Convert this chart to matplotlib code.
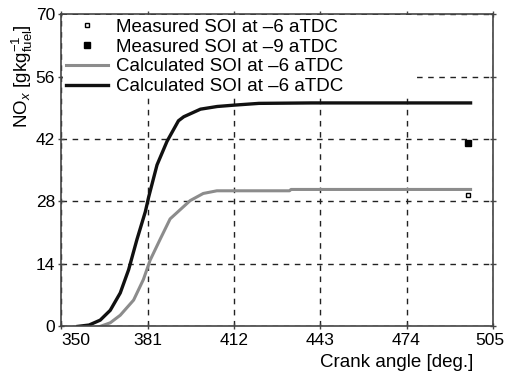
import matplotlib.pyplot as plt
from matplotlib.patches import Rectangle
from matplotlib.transforms import ScaledTranslation

plt.rcParams['font.family'] = ['Liberation Sans', 'DejaVu Sans']
plt.rcParams['mathtext.fontset'] = 'custom'
plt.rcParams['mathtext.rm'] = 'Liberation Sans'
plt.rcParams['mathtext.it'] = 'Liberation Sans:italic'

# Calculated SOI curves
crank_black = [356, 360, 364, 367.6, 371.2, 374.2, 377.2, 380.2, 381.4, 384.4, 388,
               392.1, 394, 400, 406, 412, 421, 440, 470, 497]
nox_black = [0, 0.3, 1.4, 3.6, 7.5, 12.7, 19.5, 25.7, 29.0, 36.2, 41.5,
             46.1, 47.0, 48.7, 49.3, 49.6, 50.0, 50.1, 50.1, 50.1]

crank_gray = [364, 367.6, 371.2, 376, 379.5, 381.9, 385.5, 389.1, 396.3, 401,
              405.9, 410, 432, 432.5, 497]
nox_gray = [0, 0.8, 2.5, 5.9, 10.5, 14.8, 19.5, 24.1, 28.2, 29.8,
            30.4, 30.4, 30.4, 30.7, 30.7]

# Measured points
meas_x = [496]
meas_open = [29.5]
meas_fill = [41.2]

xticks = [350, 381, 412, 443, 474, 505]
yticks = [0, 14, 28, 42, 56, 70]

fig = plt.figure(figsize=(5.06, 3.73), dpi=100)
ax = fig.add_axes([0.121, 0.125, 0.853, 0.837])

ax.plot(meas_x, meas_open, 's', ms=3.5, mfc='white', mec='black', mew=1,
        label='Measured SOI at \u20136 aTDC', zorder=4)
ax.plot(meas_x, meas_fill, 's', ms=4, color='black',
        label='Measured SOI at \u20139 aTDC', zorder=4)
ax.plot(crank_gray, nox_gray, color='#8c8c8c', lw=2.2,
        label='Calculated SOI at \u20136 aTDC', zorder=3)
ax.plot(crank_black, nox_black, color='#111111', lw=2.4,
        label='Calculated SOI at \u20136 aTDC', zorder=3)

ax.set_xlim(350, 505)
ax.set_ylim(0, 70)
ax.set_xticks(xticks)
ax.set_yticks(yticks)
ax.set_axisbelow(True)
ax.grid(True, color='#222222', ls=(0, (4, 4)), lw=1)
ax.tick_params(direction='inout', length=5, width=1, color='#444444',
               labelsize=12.5, top=True, right=True, pad=2)
xlabels = ax.get_xticklabels()
xlabels[0].set_ha('left')
xlabels[-1].set_transform(xlabels[-1].get_transform()
                          + ScaledTranslation(-3 / 100, 0, fig.dpi_scale_trans))
for s in ax.spines.values():
    s.set_color('#444444')
    s.set_linewidth(1.2)
    s.set_zorder(5)

ax.set_xlabel('Crank angle [deg.]', fontsize=13.5)
ax.xaxis.set_label_coords(0.778, -0.088)
ax.set_ylabel(r'NO$_x$ [gkg$_{\mathrm{fuel}}^{-1}$]', fontsize=13.5)
ax.yaxis.set_label_coords(-0.06, 0.80)

# white block behind the legend hides the grid there, as in the original
ax.add_patch(Rectangle((0.003, 0.732), 0.814, 0.264, transform=ax.transAxes,
                       facecolor='white', edgecolor='none', zorder=1))

ax.legend(loc='upper left', bbox_to_anchor=(0.003, 0.997), fontsize=13.5,
          frameon=False, borderaxespad=0, handlelength=2.2,
          labelspacing=0.14, borderpad=0.2, handletextpad=0.45)

fig.savefig('out.png', dpi=100)
